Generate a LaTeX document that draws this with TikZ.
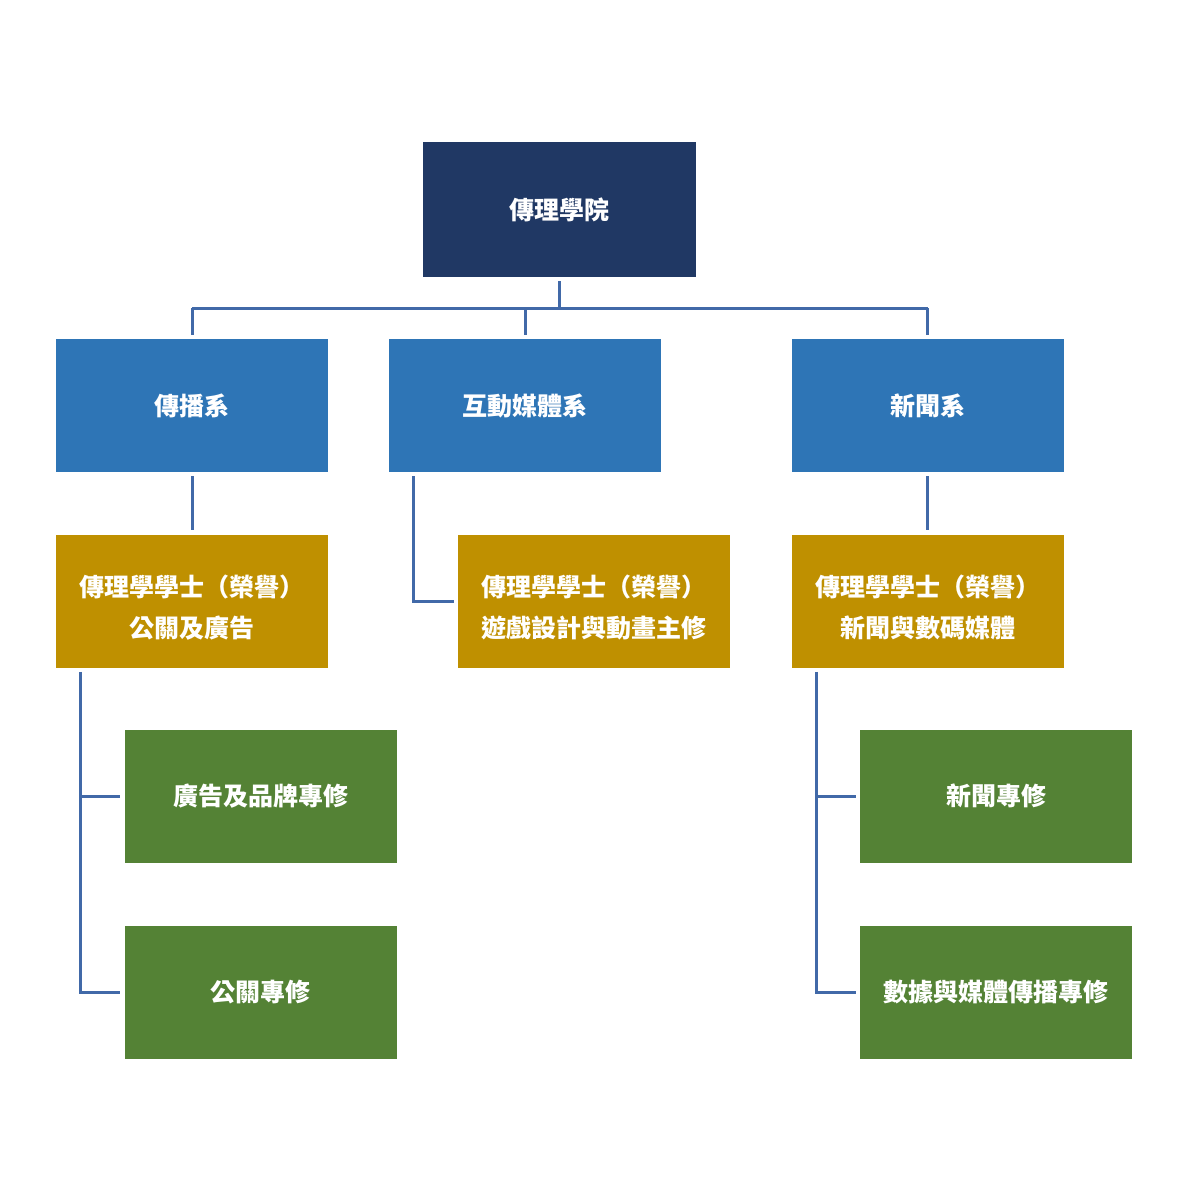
\documentclass[tikz,border=0pt]{standalone}
\usepackage{fontspec}
\newfontfamily\cjk{Noto Sans CJK TC}
\definecolor{navy}{HTML}{203864}
\definecolor{dept}{HTML}{2E75B6}
\definecolor{degree}{HTML}{BF9000}
\definecolor{stream}{HTML}{548235}
\definecolor{wire}{HTML}{4169A8}
% extra room above the first of two lines
\newcommand\toproom{\rule{0pt}{17pt}}
\tikzset{
  box/.style={draw=none, text=white, align=center, inner sep=0pt,
    minimum width=136pt, minimum height=66.5pt,
    font=\cjk\bfseries\fontsize{12.5}{20.5}\selectfont},
  rootbox/.style={box, fill=navy, minimum width=136.5pt, minimum height=67.5pt},
  deptbox/.style={box, fill=dept},
  degbox/.style={box, fill=degree},
  strbox/.style={box, fill=stream},
  wireline/.style={draw=wire, line width=1.5pt}
}
\begin{document}
\begin{tikzpicture}[x=0.5pt, y=-0.5pt]
\useasboundingbox[fill=white] (0,0) rectangle (1200,1200);

% faculty
\node[rootbox] (root) at (559.5,209.5) {傳理學院};

% departments
\node[deptbox] (a) at (192,405.5) {傳播系};
\node[deptbox] (b) at (525,405.5) {互動媒體系};
\node[deptbox] (c) at (927.5,405.5) {新聞系};

% degree programmes
\node[degbox] (a1) at (192,601) {\toproom 傳理學學士（榮譽）\\公關及廣告};
\node[degbox] (b1) at (594,601) {\toproom 傳理學學士（榮譽）\\遊戲設計與動畫主修};
\node[degbox] (c1) at (927.5,601) {\toproom 傳理學學士（榮譽）\\新聞與數碼媒體};

% streams
\node[strbox] (a2) at (260.5,796) {廣告及品牌專修};
\node[strbox] (a3) at (260.5,992) {公關專修};
\node[strbox] (c2) at (996,796) {新聞專修};
\node[strbox] (c3) at (996,992) {數據與媒體傳播專修};

% bus below the faculty
\coordinate (bus) at (0,308);
\draw[wireline] ([yshift=-2pt]root.south) -- (root.south |- bus);
\draw[wireline] (a.north |- bus) -- (c.north |- bus);
\foreach \d in {a,b,c}
  \draw[wireline] (\d.north |- bus) -- ([yshift=2pt]\d.north);

% department to degree
\draw[wireline] ([yshift=-2pt]a.south) -- ([yshift=2pt]a1.north);
\draw[wireline] ([yshift=-2pt]c.south) -- ([yshift=2pt]c1.north);
\draw[wireline] ([xshift=12.5pt,yshift=-2pt]b.south west) |- ([xshift=-2pt]b1.west);

% degree to streams
\coordinate (la) at ([xshift=12.5pt,yshift=-2pt]a1.south west);
\draw[wireline] (la) |- ([xshift=-2pt]a3.west);
\draw[wireline] (la |- a2.west) -- ([xshift=-2pt]a2.west);
\coordinate (lc) at ([xshift=12.5pt,yshift=-2pt]c1.south west);
\draw[wireline] (lc) |- ([xshift=-2pt]c3.west);
\draw[wireline] (lc |- c2.west) -- ([xshift=-2pt]c2.west);
\end{tikzpicture}
\end{document}
